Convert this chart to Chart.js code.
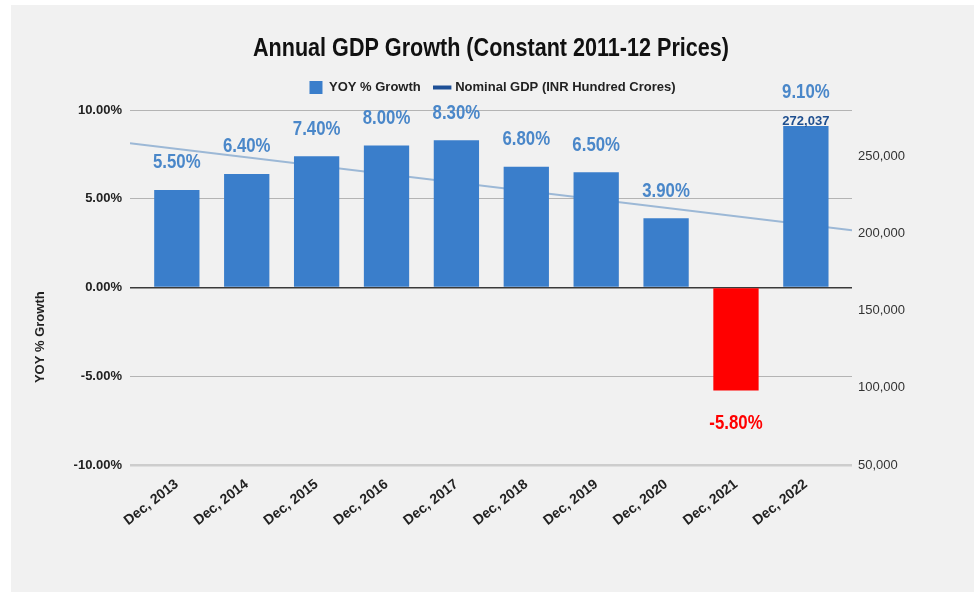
<!DOCTYPE html>
<html>
<head>
<meta charset="utf-8">
<title>Annual GDP Growth</title>
<script src="https://cdn.jsdelivr.net/npm/chart.js@4.4.1/dist/chart.umd.min.js"></script>
<style>
    html, body { margin: 0; padding: 0; background: #ffffff; }
    #frame {
        position: absolute;
        left: 11px;
        top: 5px;
        width: 963px;
        height: 587px;
        background: #f1f1f1;
    }
</style>
</head>
<body>
<div id="frame"><canvas id="gdp-chart"></canvas></div>
<script>
// Values
const years = ["Dec, 2013", "Dec, 2014", "Dec, 2015", "Dec, 2016", "Dec, 2017",
               "Dec, 2018", "Dec, 2019", "Dec, 2020", "Dec, 2021", "Dec, 2022"];
const yoy_growth = [5.5, 6.4, 7.4, 8.0, 8.3, 6.8, 6.5, 3.9, -5.8, 9.1];
const nominal_trend = [258400, 202100];   // trend line at left / right edge of plot
const latest_nominal = 272037;
const pct_ticks = [-10, -5, 0, 5, 10];
const gdp_ticks = [50000, 100000, 150000, 200000, 250000];
const chart_title = "Annual GDP Growth (Constant 2011-12 Prices)";

const x_min = -0.67;
const x_max = 9.66;

const bar_blue = "#3a7ecb";
const bar_red = "#ff0000";
const label_blue = "#4a87c9";
const sans = "'Liberation Sans', Arial, sans-serif";

// the reference uses a condensed face for title and value labels
function narrowText(ctx, txt, x, y, squeeze) {
    ctx.save();
    ctx.translate(x, y);
    ctx.scale(squeeze, 1);
    ctx.fillText(txt, 0, 0);
    ctx.restore();
}

// Title drawn above the legend (space reserved with layout padding)
const titleText = {
    id: "titleText",
    afterInit(chart) {
        // a bit more room between legend and plot than the legend gives by default
        const legend = chart.legend;
        if (legend) {
            const fit = legend.fit.bind(legend);
            legend.fit = function () {
                fit();
                this.height += 6;
            };
        }
    },
    afterDraw(chart) {
        const ctx = chart.ctx;
        ctx.save();
        ctx.font = "bold 26px " + sans;
        ctx.fillStyle = "#111";
        ctx.textAlign = "center";
        ctx.textBaseline = "middle";
        narrowText(ctx, chart_title, (chart.chartArea.left + chart.chartArea.right) / 2, 44, 0.83);
        ctx.restore();
    }
};

// Value labels above / below the bars
const valueLabels = {
    id: "valueLabels",
    afterDatasetsDraw(chart) {
        const ctx = chart.ctx;
        const meta = chart.getDatasetMeta(0);
        ctx.save();
        ctx.textAlign = "center";
        ctx.textBaseline = "middle";
        meta.data.forEach((bar, i) => {
            const v = yoy_growth[i];
            const txt = v.toFixed(2) + "%";
            ctx.font = "bold 20px " + sans;
            if (v < 0) {
                ctx.fillStyle = bar_red;
                narrowText(ctx, txt, bar.x, bar.y + 33, 0.84);
            } else if (i === yoy_growth.length - 1) {
                ctx.fillStyle = label_blue;
                narrowText(ctx, txt, bar.x, bar.y - 33, 0.84);
                ctx.font = "bold 13px " + sans;
                ctx.fillStyle = "#1f4f8f";
                ctx.fillText(latest_nominal.toLocaleString("en-US"), bar.x, bar.y - 5);
            } else {
                ctx.fillStyle = label_blue;
                narrowText(ctx, txt, bar.x, bar.y - 27, 0.84);
            }
        });
        ctx.restore();
    }
};

// Left axis title sits lower than the axis centre in the reference
const axisTitle = {
    id: "axisTitle",
    afterDraw(chart) {
        const ctx = chart.ctx;
        const area = chart.chartArea;
        ctx.save();
        ctx.translate(29, area.top + (area.bottom - area.top) * 0.64);
        ctx.rotate(-Math.PI / 2);
        ctx.font = "bold 13px " + sans;
        ctx.fillStyle = "#222";
        ctx.textAlign = "center";
        ctx.textBaseline = "middle";
        ctx.fillText("YOY % Growth", 0, 0);
        ctx.restore();
    }
};

window.addEventListener("DOMContentLoaded", () => {

    const bar_values = years.map((y, i) => ({ x: i, y: yoy_growth[i] }));
    const trend_values = [
        { x: x_min, y: nominal_trend[0] },
        { x: x_max, y: nominal_trend[1] }
    ];

    const config = {
        type: "bar",
        data: {
            datasets: [
                {
                    type: "bar",
                    label: "YOY % Growth",
                    data: bar_values,
                    yAxisID: "y",
                    backgroundColor: yoy_growth.map(v => v < 0 ? bar_red : bar_blue),
                    barPercentage: 0.8,
                    categoryPercentage: 0.81,
                    order: 1
                },
                {
                    type: "line",
                    label: "Nominal GDP (INR Hundred Crores)",
                    data: trend_values,
                    yAxisID: "y1",
                    borderColor: "#9cb8d6",
                    borderWidth: 2,
                    pointRadius: 0,
                    fill: false,
                    order: 2
                }
            ]
        },
        options: {
            responsive: true,
            maintainAspectRatio: false,
            animation: false,
            layout: { padding: { top: 61, left: 0, right: 0, bottom: 0 } },
            plugins: {
                title: { display: false },
                legend: {
                    display: true,
                    labels: {
                        color: "#222",
                        font: { family: sans, size: 13, weight: "bold" },
                        usePointStyle: true,
                        boxWidth: 13,
                        boxHeight: 13,
                        padding: 15,
                        generateLabels(chart) {
                            const items = Chart.defaults.plugins.legend.labels.generateLabels(chart);
                            items.forEach(it => {
                                if (it.datasetIndex === 0) {
                                    it.pointStyle = "rect";
                                    it.fillStyle = bar_blue;
                                    it.strokeStyle = bar_blue;
                                    it.lineWidth = 0;
                                } else {
                                    it.pointStyle = "line";
                                    it.strokeStyle = "#1d4f96";
                                    it.lineWidth = 4;
                                }
                            });
                            return items;
                        }
                    }
                },
                tooltip: { enabled: false }
            },
            scales: {
                x: {
                    type: "linear",
                    offset: false,
                    min: x_min,
                    max: x_max,
                    afterBuildTicks(scale) {
                        scale.ticks = years.map((y, i) => ({ value: i }));
                    },
                    afterFit(scale) {
                        scale.height = 127;
                    },
                    ticks: {
                        autoSkip: false,
                        minRotation: 38,
                        maxRotation: 38,
                        color: "#222",
                        font: { family: sans, size: 14, weight: "bold" },
                        callback: v => years[v]
                    },
                    grid: { display: false },
                    border: { display: false }
                },
                y: {
                    position: "left",
                    min: -10,
                    max: 10,
                    afterBuildTicks(scale) {
                        scale.ticks = pct_ticks.map(v => ({ value: v }));
                    },
                    afterFit(scale) {
                        scale.width = 119;
                    },
                    ticks: {
                        padding: 8,
                        color: "#222",
                        font: { family: sans, size: 13, weight: "bold" },
                        callback: v => v.toFixed(2) + "%"
                    },
                    grid: {
                        drawTicks: false,
                        color: c => c.tick.value === 0 ? "#3a3a3a" : (c.tick.value === -10 ? "#cdcdcd" : "#b4b4b4"),
                        lineWidth: c => c.tick.value === 0 ? 1.5 : (c.tick.value === -10 ? 2.5 : 1)
                    },
                    border: { display: false }
                },
                y1: {
                    position: "right",
                    min: 50000,
                    max: 280000,
                    afterBuildTicks(scale) {
                        scale.ticks = gdp_ticks.map(v => ({ value: v }));
                    },
                    afterFit(scale) {
                        scale.width = 122;
                    },
                    ticks: {
                        padding: 6,
                        color: "#333",
                        font: { family: sans, size: 13 },
                        callback: v => v.toLocaleString("en-US")
                    },
                    grid: { display: false, drawTicks: false },
                    border: { display: false }
                }
            }
        },
        plugins: [titleText, valueLabels, axisTitle]
    };

    const ctx_chart = document.getElementById("gdp-chart").getContext("2d");
    const gdp_chart = new Chart(ctx_chart, config);

});
</script>
</body>
</html>
